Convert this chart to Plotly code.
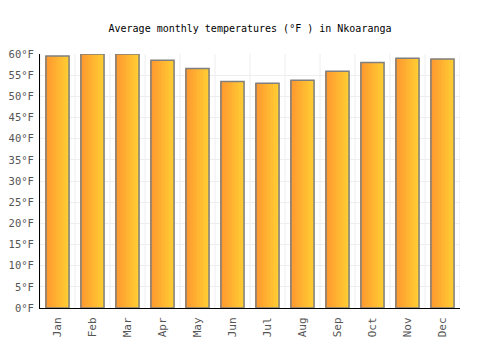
import plotly.graph_objects as go

months = ["Jan", "Feb", "Mar", "Apr", "May", "Jun", "Jul", "Aug", "Sep", "Oct", "Nov", "Dec"]
temps_f = [59.5, 60.0, 60.0, 58.5, 56.6, 53.5, 53.1, 53.8, 55.9, 58.0, 59.0, 58.8]
y_ticks = list(range(0, 61, 5))
y_tick_labels = [f"{v}°F" for v in y_ticks]

left_rgb = (255, 152, 48)
right_rgb = (255, 204, 51)
bar_width = 0.66
n_strips = 16

x_idx = list(range(len(months)))
fig = go.Figure()
sw = bar_width / n_strips
for i in range(n_strips):
    t = i / (n_strips - 1)
    r = round(left_rgb[0] + (right_rgb[0] - left_rgb[0]) * t)
    g = round(left_rgb[1] + (right_rgb[1] - left_rgb[1]) * t)
    b = round(left_rgb[2] + (right_rgb[2] - left_rgb[2]) * t)
    fig.add_trace(go.Bar(
        x=x_idx, y=temps_f, width=sw * 1.15, offset=-bar_width / 2 + i * sw,
        marker=dict(color=f"rgb({r},{g},{b})", line=dict(width=0)),
        hoverinfo="skip", showlegend=False,
    ))
fig.add_trace(go.Bar(
    x=x_idx, y=temps_f, width=bar_width,
    marker=dict(color="rgba(0,0,0,0)", line=dict(color="#7f7f7f", width=1.5)),
    showlegend=False,
))

font = "DejaVu Sans Mono"
fig.update_layout(
    width=500, height=350,
    margin=dict(l=40, r=40, t=54, b=42),
    barmode="overlay",
    plot_bgcolor="white", paper_bgcolor="white",
    title=dict(text="Average monthly temperatures (°F ) in Nkoaranga",
               x=0.5, xanchor="center", y=1 - 28 / 350, yanchor="middle",
               font=dict(family=font, size=10, color="black")),
    xaxis=dict(
        range=[-0.5, 11.5], tickmode="array", tickvals=x_idx, ticktext=months,
        tickangle=-90, showgrid=False, showline=True, linecolor="black", linewidth=1,
        ticks="outside", ticklen=4, tickcolor="rgba(0,0,0,0)", automargin=False,
        tickfont=dict(family=font, size=11, color="#555"),
    ),
    yaxis=dict(
        range=[0, 60], tickmode="array", tickvals=y_ticks, ticktext=y_tick_labels,
        showgrid=True, gridcolor="#eeeeee", gridwidth=1, automargin=False,
        showline=True, linecolor="black", linewidth=1,
        ticks="outside", ticklen=3, tickcolor="rgba(0,0,0,0)",
        tickfont=dict(family=font, size=10.5, color="#555"), zeroline=False,
    ),
)
for k in range(13):
    fig.add_shape(type="line", xref="x", yref="paper", x0=k - 0.5, x1=k - 0.5, y0=0, y1=1,
                  line=dict(color="#eeeeee", width=1), layer="below")

fig.write_html("out.html")
